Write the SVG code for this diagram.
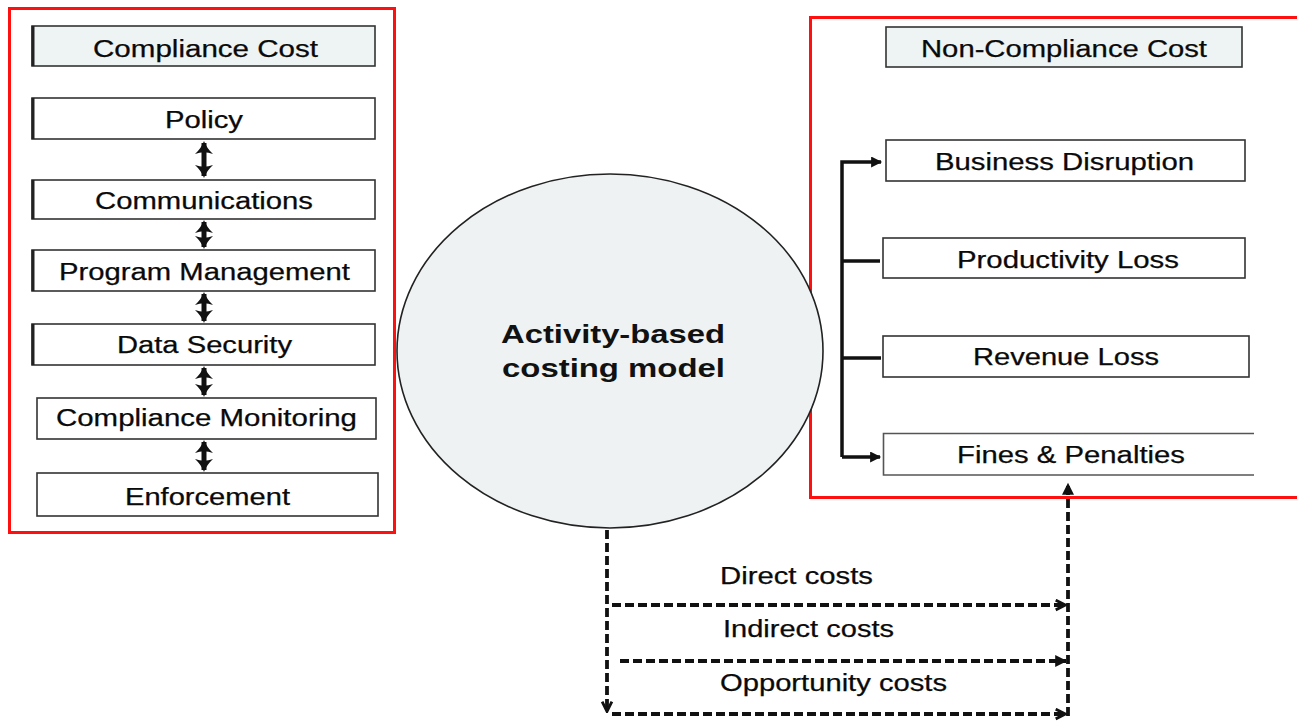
<svg xmlns="http://www.w3.org/2000/svg" width="1297" height="723" viewBox="0 0 1297 723">
  <style>
    .frame { fill: none; stroke: #ff1010; stroke-width: 3; }
    .box { fill: #ffffff; stroke: #333333; stroke-width: 1.6; }
    .head { fill: #eef3f3; stroke: #333333; stroke-width: 1.6; }
    .edge { stroke: #222222; stroke-width: 3; }
    .lbl { font-family: "Liberation Sans", Arial, sans-serif; font-size: 23px; fill: #0a0a0a; stroke: #0a0a0a; stroke-width: 0.25; text-anchor: middle; }
    .core { font-family: "Liberation Sans", Arial, sans-serif; font-size: 26px; font-weight: bold; fill: #111111; text-anchor: middle; }
    .solid { fill: none; stroke: #111111; stroke-width: 3.5; }
    .link { fill: none; stroke: #111111; stroke-width: 5; }
    .dash { fill: none; stroke: #111111; stroke-width: 3.8; stroke-dasharray: 9 4; }
  </style>
  <defs>
    <!-- curved-back heads for the two-way links -->
    <marker id="dbl" viewBox="0 0 13 18" refX="11" refY="9" markerWidth="13" markerHeight="18" orient="auto-start-reverse" markerUnits="userSpaceOnUse">
      <path d="M0,0 Q6,6.5 13,9 Q6,11.5 0,18 Q3.5,9 0,0 Z" fill="#111111"/>
    </marker>
    <marker id="tri" viewBox="0 0 10 10" refX="9" refY="5" markerWidth="13" markerHeight="12" orient="auto" markerUnits="userSpaceOnUse">
      <path d="M0,0 L10,5 L0,10 Z" fill="#111111"/>
    </marker>
    <marker id="tri-sm" viewBox="0 0 10 10" refX="9" refY="5" markerWidth="12" markerHeight="11" orient="auto" markerUnits="userSpaceOnUse">
      <path d="M0,0 L10,5 L0,10 Z" fill="#111111"/>
    </marker>
    <marker id="chev" viewBox="0 0 12 12" refX="11" refY="6" markerWidth="13" markerHeight="13" orient="auto" markerUnits="userSpaceOnUse">
      <path d="M1.5,1.5 L10.5,6 L1.5,10.5" fill="none" stroke="#111111" stroke-width="2.6"/>
    </marker>
  </defs>

  <!-- group frames -->
  <rect id="compliance-frame" class="frame" x="9.5" y="8.5" width="385" height="524"/>
  <rect id="noncompliance-frame" class="frame" x="810.5" y="17.5" width="490" height="480"/>

  <!-- compliance cost column -->
  <g id="compliance-cost">
    <rect class="head" x="32" y="26" width="343" height="40"/>
    <line class="edge" x1="33" y1="26" x2="33" y2="66"/>
    <text class="lbl" x="205.5" y="57" textLength="225" lengthAdjust="spacingAndGlyphs">Compliance Cost</text>
  </g>
  <g id="policy">
    <rect class="box" x="32" y="98" width="343" height="41"/>
    <line class="edge" x1="33" y1="98" x2="33" y2="139"/>
    <text class="lbl" x="204" y="128" textLength="78" lengthAdjust="spacingAndGlyphs">Policy</text>
  </g>
  <g id="communications">
    <rect class="box" x="32" y="180" width="343" height="39"/>
    <line class="edge" x1="33" y1="180" x2="33" y2="219"/>
    <text class="lbl" x="204" y="209" textLength="218" lengthAdjust="spacingAndGlyphs">Communications</text>
  </g>
  <g id="program-management">
    <rect class="box" x="32" y="250" width="343" height="41"/>
    <line class="edge" x1="33" y1="250" x2="33" y2="291"/>
    <text class="lbl" x="204.5" y="280" textLength="291" lengthAdjust="spacingAndGlyphs">Program Management</text>
  </g>
  <g id="data-security">
    <rect class="box" x="32" y="324" width="343" height="41"/>
    <line class="edge" x1="33" y1="324" x2="33" y2="365"/>
    <text class="lbl" x="204.5" y="353" textLength="175" lengthAdjust="spacingAndGlyphs">Data Security</text>
  </g>
  <g id="compliance-monitoring">
    <rect class="box" x="37" y="398" width="339" height="41"/>
    <text class="lbl" x="206.5" y="426" textLength="301" lengthAdjust="spacingAndGlyphs">Compliance Monitoring</text>
  </g>
  <g id="enforcement">
    <rect class="box" x="37" y="473" width="341" height="43"/>
    <text class="lbl" x="207.5" y="505" textLength="165" lengthAdjust="spacingAndGlyphs">Enforcement</text>
  </g>

  <!-- costing model -->
  <g id="activity-model">
    <ellipse cx="610" cy="351" rx="213" ry="177" fill="#eef2f3" stroke="#222222" stroke-width="1.6"/>
    <text class="core" x="613" y="343" textLength="224" lengthAdjust="spacingAndGlyphs">Activity-based</text>
    <text class="core" x="613.5" y="377" textLength="223" lengthAdjust="spacingAndGlyphs">costing model</text>
  </g>

  <!-- non-compliance cost column -->
  <g id="non-compliance-cost">
    <rect class="head" x="886" y="27" width="356" height="40"/>
    <text class="lbl" x="1064" y="57" textLength="286" lengthAdjust="spacingAndGlyphs">Non-Compliance Cost</text>
  </g>
  <g id="business-disruption">
    <rect class="box" x="886" y="140" width="359" height="41"/>
    <text class="lbl" x="1064.5" y="170" textLength="259" lengthAdjust="spacingAndGlyphs">Business Disruption</text>
  </g>
  <g id="productivity-loss">
    <rect class="box" x="883" y="238" width="362" height="40"/>
    <text class="lbl" x="1068" y="268" textLength="222" lengthAdjust="spacingAndGlyphs">Productivity Loss</text>
  </g>
  <g id="revenue-loss">
    <rect class="box" x="883" y="336" width="366" height="41" stroke="#777777"/>
    <text class="lbl" x="1066" y="365" textLength="186" lengthAdjust="spacingAndGlyphs">Revenue Loss</text>
  </g>
  <g id="fines-penalties">
    <path d="M1254,433.5 H883.5 V475 H1254" fill="#ffffff" stroke="#555555" stroke-width="1.6"/>
    <text class="lbl" x="1071" y="463" textLength="228" lengthAdjust="spacingAndGlyphs">Fines &amp; Penalties</text>
  </g>

  <!-- connectors -->
  <g id="connectors">
    <!-- two-way links between compliance activities -->
    <path class="link" d="M204,143 V176" marker-start="url(#dbl)" marker-end="url(#dbl)"/>
    <path class="link" d="M204,222 V247" marker-start="url(#dbl)" marker-end="url(#dbl)"/>
    <path class="link" d="M204,294 V321" marker-start="url(#dbl)" marker-end="url(#dbl)"/>
    <path class="link" d="M204,368 V395" marker-start="url(#dbl)" marker-end="url(#dbl)"/>
    <path class="link" d="M204,442 V470" marker-start="url(#dbl)" marker-end="url(#dbl)"/>

    <!-- bracket feeding the non-compliance outcomes -->
    <path class="solid" d="M842,457 V162 H881" marker-end="url(#tri-sm)"/>
    <path class="solid" d="M842,457 H880" marker-end="url(#tri-sm)"/>
    <path class="solid" d="M842,261 H880"/>
    <path class="solid" d="M842,358 H881"/>

    <!-- cost flows from the costing model -->
    <path class="dash" d="M607,530 V712" marker-end="url(#chev)"/>
    <path class="dash" d="M612,605 H1066" marker-end="url(#chev)"/>
    <path class="dash" d="M620,661 H1066" marker-end="url(#tri)"/>
    <path class="dash" d="M612,714 H1066" marker-end="url(#chev)"/>
    <path class="dash" d="M1068,716 V484" marker-end="url(#tri)"/>
  </g>

  <!-- cost flow labels -->
  <text class="lbl" x="796.5" y="584" textLength="153" lengthAdjust="spacingAndGlyphs">Direct costs</text>
  <text class="lbl" x="808.5" y="637" textLength="171" lengthAdjust="spacingAndGlyphs">Indirect costs</text>
  <text class="lbl" x="833.5" y="691" textLength="227" lengthAdjust="spacingAndGlyphs">Opportunity costs</text>
</svg>
